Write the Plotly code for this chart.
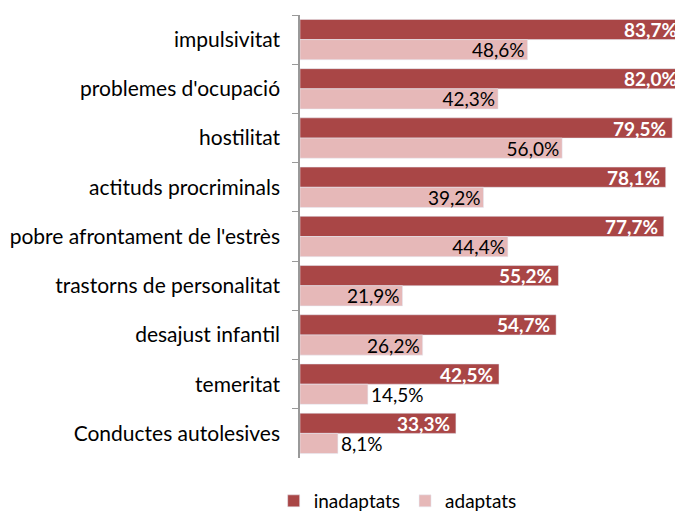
import plotly.graph_objects as go

categories = ["impulsivitat", "problemes d'ocupació", "hostilitat", "actituds procriminals",
              "pobre afrontament de l'estrès", "trastorns de personalitat", "desajust infantil",
              "temeritat", "Conductes autolesives"]
inadaptats = [83.7, 82.0, 79.5, 78.1, 77.7, 55.2, 54.7, 42.5, 33.3]
adaptats = [48.6, 42.3, 56.0, 39.2, 44.4, 21.9, 26.2, 14.5, 8.1]

dark = "#A94646"
light = "#E6B8B8"
font = "Lato"
xmax = 81.8


def pct(v):
    return ("%.1f%%" % v).replace(".", ",")


fig = go.Figure()
fig.add_trace(go.Bar(y=categories, x=inadaptats, orientation="h", name="inadaptats",
                     marker=dict(color=dark), hoverinfo="skip"))
fig.add_trace(go.Bar(y=categories, x=adaptats, orientation="h", name="adaptats",
                     marker=dict(color=light),
                     text=[pct(v) for v in adaptats],
                     textposition=["inside"] * 7 + ["outside"] * 2,
                     insidetextanchor="end", constraintext="none",
                     textfont=dict(color="black", size=19, family=font),
                     cliponaxis=False, hoverinfo="skip"))

# white labels of the dark bars, kept inside the visible plot area
for c, v in zip(categories, inadaptats):
    fig.add_annotation(x=min(v, xmax), y=c, yshift=10, xshift=-4, xanchor="right",
                       text="<b>%s</b>" % pct(v), showarrow=False,
                       font=dict(color="white", size=19, family=font))

# page body keeps its default 8px margin, so the figure is 8px smaller
fig.update_layout(
    width=675, height=505,
    margin=dict(l=292, r=0, t=7, b=55, autoexpand=False),
    barmode="group", bargap=0.18, bargroupgap=0,
    plot_bgcolor="white", paper_bgcolor="white",
    font=dict(family=font, size=20, color="black"),
    showlegend=True,
    legend=dict(orientation="h", x=0.255, xanchor="center", y=-0.14, yanchor="bottom",
                font=dict(size=19), itemwidth=30),
)
fig.update_xaxes(range=[0, xmax], visible=False)
fig.update_yaxes(autorange="reversed", showline=True, linecolor="#999999", linewidth=1.5,
                 ticks="outside", tickson="boundaries", ticklen=6, tickcolor="#999999",
                 ticklabelstandoff=14, showgrid=False, tickfont=dict(size=21))

fig.write_html("out.html")
